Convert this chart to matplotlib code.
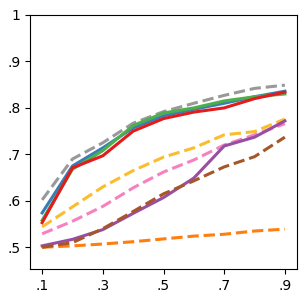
import numpy as np
import matplotlib
matplotlib.use("Agg")
import matplotlib.pyplot as plt

# x positions (fraction)
x = [0.1, 0.2, 0.3, 0.4, 0.5, 0.6, 0.7, 0.8, 0.9]

# series
gray = [0.602, 0.69, 0.725, 0.767, 0.792, 0.81, 0.827, 0.842, 0.849]
blue = [0.574, 0.675, 0.714, 0.757, 0.783, 0.797, 0.81, 0.824, 0.836]
green = [0.558, 0.668, 0.708, 0.762, 0.789, 0.80, 0.815, 0.824, 0.83]
red = [0.553, 0.671, 0.697, 0.75, 0.777, 0.791, 0.80, 0.82, 0.834]
yellow = [0.544, 0.587, 0.63, 0.665, 0.694, 0.714, 0.742, 0.749, 0.776]
pink = [0.529, 0.556, 0.588, 0.628, 0.662, 0.688, 0.72, 0.742, 0.766]
purple = [0.503, 0.517, 0.538, 0.573, 0.607, 0.649, 0.718, 0.737, 0.772]
brown = [0.50, 0.51, 0.54, 0.577, 0.615, 0.643, 0.673, 0.695, 0.737]
orange = [0.50, 0.503, 0.507, 0.512, 0.518, 0.524, 0.528, 0.535, 0.539]

xticks = [0.1, 0.3, 0.5, 0.7, 0.9]
xticklabels = [".1", ".3", ".5", ".7", ".9"]
yticks = [0.5, 0.6, 0.7, 0.8, 0.9, 1.0]
yticklabels = [".5", ".6", ".7", ".8", ".9", "1"]

fig = plt.figure(figsize=(3, 3), dpi=100)
ax = fig.add_axes([0.1, 0.103, 0.89, 0.847])

lw = 2.2
ax.plot(x, orange, color="#ff7f0e", lw=lw, ls="--")
ax.plot(x, yellow, color="#fbbc2e", lw=lw, ls="--")
ax.plot(x, pink, color="#f781bf", lw=lw, ls="--")
ax.plot(x, purple, color="#984ea3", lw=lw)
ax.plot(x, brown, color="#a65628", lw=lw, ls="--")
ax.plot(x, gray, color="#999999", lw=lw, ls="--")
ax.plot(x, blue, color="#377eb8", lw=lw)
ax.plot(x, green, color="#4daf4a", lw=lw)
ax.plot(x, red, color="#e41a1c", lw=lw)

ax.set_xlim(0.06, 0.94)
ax.set_ylim(0.453, 1.0)
ax.set_xticks(xticks)
ax.set_xticklabels(xticklabels, fontsize=10)
ax.set_yticks(yticks)
ax.set_yticklabels(yticklabels, fontsize=10)

fig.savefig("out.png", dpi=100)
